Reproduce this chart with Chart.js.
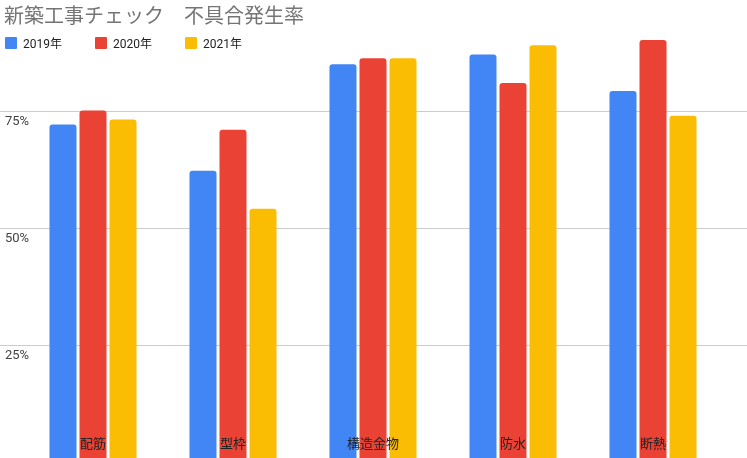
<!DOCTYPE html>
<html><head><meta charset="utf-8">
<script src="https://cdn.jsdelivr.net/npm/chart.js@4"></script>
<style>
body{margin:0;width:747px;height:458px;overflow:hidden;background:#fff;font-family:"Noto Sans CJK JP",Roboto,sans-serif;position:relative}
#wrap{position:absolute;left:0;top:0;width:747px;height:462px}
#title{position:absolute;left:4px;top:0px;font-size:20px;color:#757575;z-index:2}
#legend{position:absolute;left:5px;top:34px;font-size:12px;color:#222;z-index:2;font-family:Roboto,"Noto Sans CJK JP",sans-serif;white-space:nowrap}
#legend span{display:inline-flex;align-items:center;width:90px}
#legend i{display:inline-block;flex:0 0 12px;width:12px;height:12px;margin-right:6px;border-radius:1px}
</style></head><body>
<div id="title">新築工事チェック　不具合発生率</div>
<div id="legend"></div>
<div id="wrap"><canvas id="c" width="747" height="462" style="width:747px;height:462px"></canvas></div>
<script>
const categories=["配筋","型枠","構造金物","防水","断熱"];
const seriesNames=["2019年","2020年","2021年"];
const s2019=[72.2,62.3,85.1,87.2,79.4];
const s2020=[75.2,71.1,86.4,81.1,90.3];
const s2021=[73.3,54.2,86.4,89.2,74.1];
const yTicks=[25,50,75];
const colors=["#4285F4","#EA4335","#FBBC04"];
const lg=document.getElementById('legend');
seriesNames.forEach((n,i)=>{lg.innerHTML+=`<span><i style="background:${colors[i]}"></i>${n}</span>`});
const deco={id:'deco',
beforeDatasetsDraw(ch){const c=ch.ctx,y=ch.scales.y;c.save();c.strokeStyle='#cccccc';c.lineWidth=1;
c.fillStyle='#444';c.font='13px Roboto, sans-serif';c.textBaseline='top';c.textAlign='left';
yTicks.forEach(v=>{const p=Math.round(y.getPixelForValue(v))+0.5;c.beginPath();c.moveTo(0,p);c.lineTo(747,p);c.stroke();c.fillText(v+'%',5,p+4);});c.restore();},
afterDatasetsDraw(ch){const c=ch.ctx,x=ch.scales.x;c.save();c.fillStyle='#222';c.font='13px "Noto Sans CJK JP", sans-serif';c.textAlign='center';c.textBaseline='middle';
categories.forEach((n,i)=>c.fillText(n,x.getPixelForValue(i),443));c.restore();}};
new Chart(document.getElementById('c'),{type:'bar',
data:{labels:categories,datasets:[s2019,s2020,s2021].map((d,i)=>({label:seriesNames[i],data:d,backgroundColor:colors[i],borderRadius:{topLeft:3,topRight:3},borderSkipped:'bottom',barPercentage:0.9,categoryPercentage:0.643}))},
options:{responsive:false,maintainAspectRatio:false,devicePixelRatio:1,animation:false,layout:{padding:{top:4,left:23,right:24,bottom:0}},
plugins:{legend:{display:false},title:{display:false},tooltip:{enabled:false}},
scales:{x:{display:false},y:{display:false,min:0,max:98}}},
plugins:[deco]});
</script>
</body></html>
